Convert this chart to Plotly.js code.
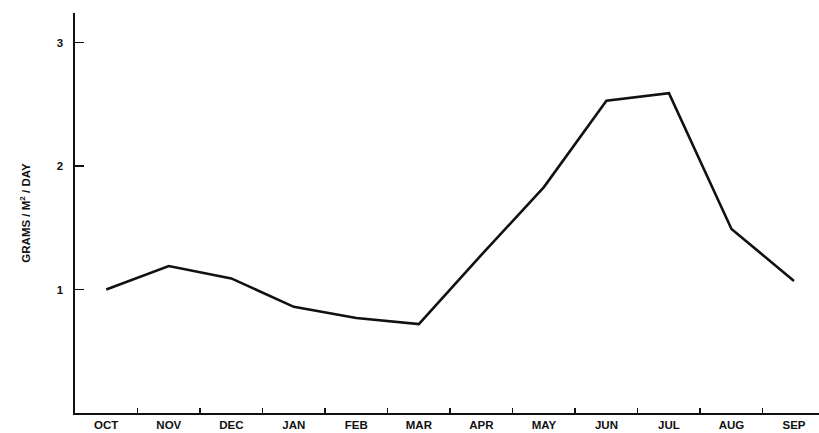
<!DOCTYPE html>
<html>
<head>
<meta charset="utf-8">
<script src="https://cdn.plot.ly/plotly-3.0.1.min.js"></script>
<style>html,body{margin:0;padding:0;background:#fff;}#chart{width:819px;height:433px;}</style>
</head>
<body>
<div id="chart"></div>
<script>
const months = ["OCT","NOV","DEC","JAN","FEB","MAR","APR","MAY","JUN","JUL","AUG","SEP"];
const grams = [1.0, 1.19, 1.09, 0.86, 0.77, 0.72, 1.28, 1.83, 2.53, 2.59, 1.49, 1.07];
const yTicks = [1, 2, 3];

const trace = {
  x: months,
  y: grams,
  type: "scatter",
  mode: "lines",
  line: {color: "#111", width: 2.6},
  hoverinfo: "skip"
};

const fnt = {family: "Liberation Sans, Arial, sans-serif", size: 11.5, color: "#111", weight: "bold"};

const layout = {
  width: 819, height: 433,
  margin: {l: 75, r: 0, t: 13, b: 20, pad: 0},
  paper_bgcolor: "#fff", plot_bgcolor: "#fff",
  showlegend: false,
  xaxis: {
    type: "category",
    range: [-0.5, 11.4],
    tickson: "boundaries",
    ticks: "inside", ticklen: 5, tickwidth: 1.5, tickcolor: "#111",
    showline: true, linecolor: "#111", linewidth: 2,
    showgrid: false, zeroline: false,
    tickfont: fnt,
    automargin: false,
    fixedrange: true
  },
  yaxis: {
    range: [0, 3.24],
    tickvals: yTicks,
    ticktext: yTicks.map(String),
    ticks: "inside", ticklen: 9, tickwidth: 1.5, tickcolor: "#111",
    showline: true, linecolor: "#111", linewidth: 2.5,
    showgrid: false, zeroline: false,
    tickfont: fnt,
    ticklabelstandoff: 7,
    automargin: false,
    title: {text: "GRAMS / M<sup>2</sup> / DAY", font: {family: "Liberation Sans, Arial, sans-serif", size: 11.5, color: "#111", weight: "bold"}, standoff: 24},
    fixedrange: true
  }
};

Plotly.newPlot("chart", [trace], layout, {displayModeBar: false, staticPlot: true});
</script>
</body>
</html>
